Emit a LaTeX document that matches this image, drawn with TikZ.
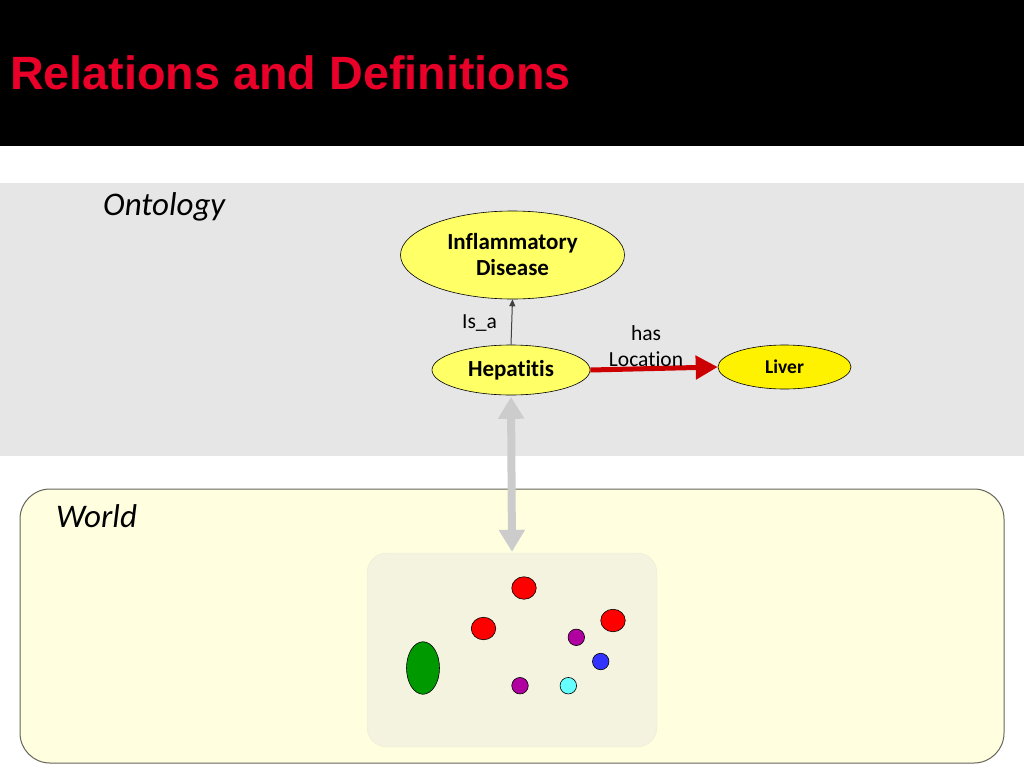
\documentclass[tikz,border=0pt]{standalone}
\usepackage{fontspec}
\setmainfont{Carlito}[Ligatures=NoCommon]
\newfontfamily\titlefont{Liberation Sans}
\usetikzlibrary{shapes.geometric,arrows.meta}
\definecolor{titlered}{RGB}{232,0,40}
\definecolor{bandgray}{RGB}{230,230,230}
\definecolor{worldfill}{RGB}{255,255,224}
\definecolor{worldedge}{RGB}{100,100,90}
\definecolor{innerfill}{RGB}{243,243,224}
\definecolor{innerline}{RGB}{234,234,214}
\definecolor{paleyellow}{RGB}{255,255,102}
\definecolor{arrowgray}{RGB}{204,204,204}
\definecolor{redarrow}{RGB}{204,0,0}
\definecolor{dotpurple}{RGB}{176,0,160}
\definecolor{dotblue}{RGB}{51,51,255}
\definecolor{dotcyan}{RGB}{102,255,255}
\definecolor{dotgreen}{RGB}{0,153,0}
\tikzset{
  concept/.style={ellipse, draw=black, line width=0.6pt, fill=paleyellow, inner sep=0pt,
    font=\fontsize{23}{26}\selectfont\bfseries, align=center},
  reltext/.style={font=\fontsize{21.5}{26}\selectfont, align=center, inner sep=0pt},
  heading/.style={font=\fontsize{33}{36}\selectfont\itshape, anchor=base west, inner sep=0pt},
  dot/.style={draw=black, line width=0.6pt, inner sep=0pt}
}
\begin{document}
\begin{tikzpicture}[x=1pt,y=-1pt]
\useasboundingbox (0,0) rectangle (1024,768);
\fill[white] (0,0) rectangle (1024,768);
% header
\fill[black] (0,0) rectangle (1024,146);
\node[anchor=base west, inner sep=0pt, text=titlered, font=\titlefont\fontsize{46.7}{50}\selectfont\bfseries] (title) at (10,89) {Relations and Definitions};
% ontology band
\fill[bandgray] (0,183) rectangle (1024,456);
\node[heading] (ont) at (103,215) {Ontology};
% world box
\draw[worldedge, fill=worldfill, line width=1pt, rounded corners=30pt] (20,489) rectangle (1004,763);
\node[heading] (world) at (56,527) {World};
\node[draw=innerline, fill=innerfill, rounded corners=20pt, minimum width=290pt, minimum height=194pt, inner sep=0pt] (inner) at (512,650) {};
% concepts
\node[concept, minimum width=224pt, minimum height=88pt] (infl) at (512.5,255) {Inflammatory\\Disease};
\node[concept, minimum width=158pt, minimum height=50pt] (hep) at (511,370) {Hepatitis};
\node[concept, fill=yellow, minimum width=133pt, minimum height=44pt, font=\fontsize{19.5}{22}\selectfont\bfseries] (liver) at (784.5,367) {Liver};
% relations
\draw[line width=1pt, draw=black!75, -{Triangle[length=7pt,width=6pt]}] (hep.north) -- (infl.south);
\node[reltext] (isa) at (479.5,323) {Is\_a};
\draw[line width=5pt, redarrow, -{Triangle[length=22pt,width=23pt]}] (hep.east) -- (liver.west);
\node[reltext] (has) at (646,346) {has\\Location};
% grey link
\draw[line width=8pt, arrowgray, {Triangle[length=22pt,width=25pt]}-{Triangle[length=22pt,width=25pt]}, shorten <=1.5pt, shorten >=1pt] (hep.south) -- (inner.north);
% instances
\node[dot, ellipse, fill=red, minimum width=24.5pt, minimum height=22.5pt] (r1) at (524,588) {};
\node[dot, ellipse, fill=red, minimum width=24.5pt, minimum height=22.5pt] (r2) at (483.5,628.5) {};
\node[dot, ellipse, fill=red, minimum width=24.5pt, minimum height=22.5pt] (r3) at (613,620.5) {};
\node[dot, circle, fill=dotpurple, minimum size=16.5pt] (p1) at (576.3,637.3) {};
\node[dot, circle, fill=dotblue, minimum size=16.5pt] (b1) at (600.7,661.5) {};
\node[dot, circle, fill=dotpurple, minimum size=16.5pt] (p2) at (520,685.7) {};
\node[dot, circle, fill=dotcyan, minimum size=16.5pt] (c1) at (568.3,685.7) {};
\node[dot, ellipse, fill=dotgreen, minimum width=33pt, minimum height=52.5pt] (g1) at (423,668) {};
\end{tikzpicture}
\end{document}
